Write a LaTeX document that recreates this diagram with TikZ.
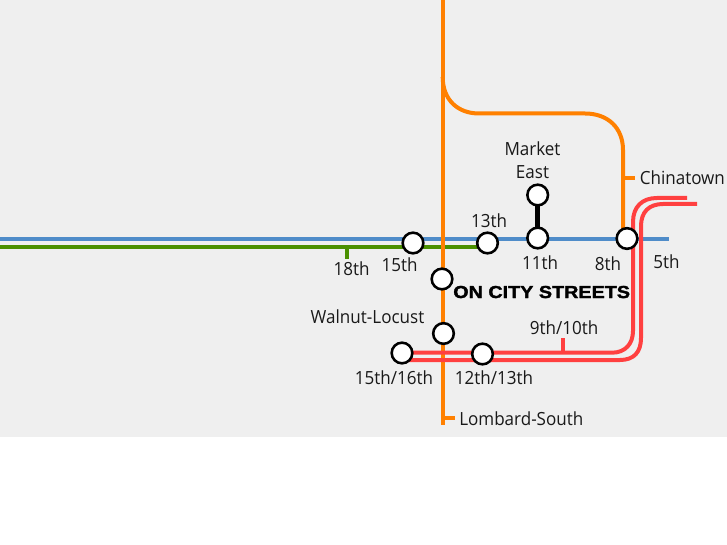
\documentclass[tikz,border=0pt]{standalone}
\usepackage{fontspec}
\setmainfont[FakeStretch=0.94]{Open Sans}
\newfontfamily\heavyfont[FakeBold=1.8,FakeStretch=1.14]{Liberation Sans Bold}
\definecolor{bgc}{HTML}{EFEFEF}
\definecolor{orangeline}{HTML}{FF8000}
\definecolor{blueline}{HTML}{4F8CC9}
\definecolor{greenline}{HTML}{4A9000}
\definecolor{redline}{HTML}{FF4040}
\tikzset{
 x=0.75pt,y=-0.75pt,
 lineb/.style={line width=3pt,blueline},
 lineg/.style={line width=2.7pt,greenline},
 lineo/.style={line width=3pt,orangeline},
 liner/.style={line width=3pt,redline},
 station/.style={circle,draw=black,line width=1.9pt,fill=white,minimum size=15.5pt,inner sep=0pt},
 lbl/.style={font=\fontsize{13.6pt}{17.2pt}\selectfont,text=black!90,inner sep=0pt,align=center},
}
\begin{document}
\begin{tikzpicture}
\useasboundingbox (0,0) rectangle (727,545);
\fill[white] (0,0) rectangle (727,545);
\fill[bgc] (0,0) rectangle (727,437);
% coordinates
\coordinate (otop) at (442.7,0);
\coordinate (obot) at (442.7,425);
\coordinate (ob) at (442.7,77);
\coordinate (oe) at (623,238);
\coordinate (ocs) at (623,178);
\coordinate (oce) at (635,178);
\coordinate (ols) at (442.7,418);
\coordinate (ole) at (455,418);
\coordinate (bl) at (0,238.5);
\coordinate (br) at (669,238.5);
\coordinate (gl) at (0,247);
\coordinate (s18a) at (347,247);
\coordinate (s18b) at (347,259);
\coordinate (s9a) at (563,353);
\coordinate (s9b) at (563,338);
% lines
\draw[lineb] (bl) -- (br);
\draw[lineg] (gl) -- (487,247);
\draw[lineg] (s18a) -- (s18b);
\draw[lineo] (otop) -- (obot);
\draw[lineo] (ob) .. controls (442.7,100) and (458,113.5) .. (479,113.5) -- (585,113.5) .. controls (608,113.5) and (623,128) .. (623,150) -- (oe);
\draw[lineo] (ocs) -- (oce);
\draw[lineo] (ols) -- (ole);
\draw[liner] (402,352.7) -- (612,352.7) .. controls (625,352.7) and (633,344) .. (633,331) -- (633,222) .. controls (633,207) and (642,198) .. (657,198) -- (687,198);
\draw[liner] (402,360) -- (620,360) .. controls (634,360) and (641,352) .. (641,338) -- (641,226) .. controls (641,212) and (649,204) .. (663,204) -- (697,204);
\draw[liner] (s9a) -- (s9b);
\draw[line width=3.2pt,black] (537.5,195) -- (537.5,238);
% stations
\node[station] (n15) at (413,243) {};
\node[station] (n13) at (487.5,243) {};
\node[station] (n11) at (537.7,238) {};
\node[station] (n8) at (627,238.5) {};
\node[station] (nme) at (537.7,195) {};
\node[station] (ncity) at (442,279) {};
\node[station] (nwl) at (443.5,333.5) {};
\node[station] (n1516) at (402,353) {};
\node[station] (n1213) at (482.5,354) {};
% labels
\node[lbl] (tme) at (532.5,160) {Market\\East};
\node[lbl,anchor=west] (tch) at (639.5,177.5) {Chinatown};
\node[lbl] (t13) at (489,221) {13th};
\node[lbl] (t11) at (540,262.5) {11th};
\node[lbl] (t8) at (608,263.5) {8th};
\node[lbl] (t5) at (666.5,262) {5th};
\node[lbl] (t18) at (351.5,269) {18th};
\node[lbl] (t15) at (399.5,265) {15th};
\node[lbl] (twl) at (367.5,317) {Walnut-Locust};
\node[lbl] (t910) at (564,328) {9th/10th};
\node[lbl] (t1516) at (394,378) {15th/16th};
\node[lbl] (t1213) at (494,378) {12th/13th};
\node[lbl,anchor=west] (tls) at (459,418.5) {Lombard-South};
\node[inner sep=0pt,anchor=base west,text=black] (tcs) at (453,298) {\heavyfont\fontsize{13pt}{15pt}\selectfont ON CITY STREETS};
\end{tikzpicture}
\end{document}
